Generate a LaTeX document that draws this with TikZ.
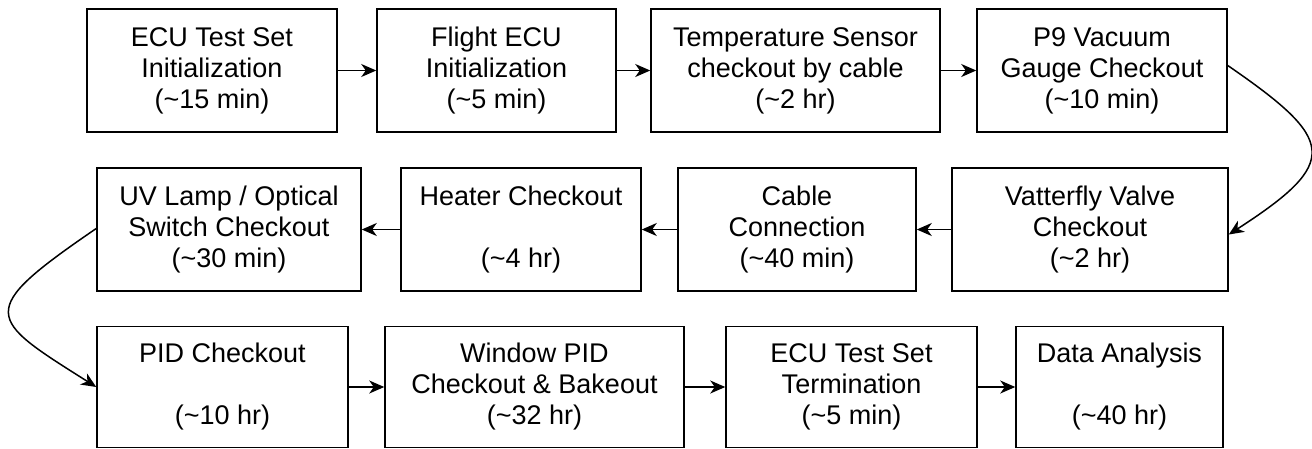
\documentclass[tikz,border=0pt]{standalone}
\usepackage{fontspec}
\setmainfont{Liberation Sans}
\usetikzlibrary{arrows.meta}
\begin{document}
\begin{tikzpicture}[x=1pt,y=-1pt,
  stepbox/.style={draw=black, line width=1.5pt, fill=white, inner sep=0pt,
    align=center, font=\fontsize{27}{31}\selectfont},
  flow/.style={draw=black, line width=1.5pt,
    -{Stealth[length=15pt,width=13pt,inset=4.5pt]}}]
\useasboundingbox (0,0) rectangle (1312,448);

% first row
\node[stepbox, minimum width=250pt, minimum height=123pt] (b1) at (212,70.5)
  {ECU Test Set\\Initialization\\(\textasciitilde15 min)};
\node[stepbox, minimum width=239pt, minimum height=123pt] (b2) at (496.5,70.5)
  {Flight ECU\\Initialization\\(\textasciitilde5 min)};
\node[stepbox, minimum width=289pt, minimum height=123pt] (b3) at (795.5,70.5)
  {Temperature Sensor\\checkout by cable\\(\textasciitilde2 hr)};
\node[stepbox, minimum width=250pt, minimum height=123pt] (b4) at (1102,70.5)
  {P9 Vacuum\\Gauge Checkout\\(\textasciitilde10 min)};

% second row (runs right to left)
\node[stepbox, minimum width=276pt, minimum height=123pt] (b5) at (1090,229.5)
  {Vatterfly Valve\\Checkout\\(\textasciitilde2 hr)};
\node[stepbox, minimum width=238pt, minimum height=123pt] (b6) at (797,229.5)
  {Cable\\Connection\\(\textasciitilde40 min)};
\node[stepbox, minimum width=240pt, minimum height=123pt] (b7) at (521,229.5)
  {Heater Checkout\\\mbox{}\\(\textasciitilde4 hr)};
\node[stepbox, minimum width=264pt, minimum height=123pt] (b8) at (229,229.5)
  {UV Lamp / Optical\\Switch Checkout\\(\textasciitilde30 min)};

% third row
\node[stepbox, minimum width=251pt, minimum height=121pt] (b9) at (222.5,387)
  {PID Checkout\\\mbox{}\\(\textasciitilde10 hr)};
\node[stepbox, minimum width=299pt, minimum height=121pt] (b10) at (534.5,387)
  {Window PID\\Checkout \& Bakeout\\(\textasciitilde32 hr)};
\node[stepbox, minimum width=251pt, minimum height=121pt] (b11) at (851.5,387)
  {ECU Test Set\\Termination\\(\textasciitilde5 min)};
\node[stepbox, minimum width=207pt, minimum height=121pt] (b12) at (1119.5,387)
  {Data Analysis\\\mbox{}\\(\textasciitilde40 hr)};

% straight links
\draw[flow] (b1) -- (b2);
\draw[flow] (b2) -- (b3);
\draw[flow] (b3) -- (b4);
\draw[flow] (b5) -- (b6);
\draw[flow] (b6) -- (b7);
\draw[flow] (b7) -- (b8);
\draw[flow] (b9) -- (b10);
\draw[flow] (b10) -- (b11);
\draw[flow] (b11) -- (b12);

% row-to-row links
\draw[flow] ([yshift=5pt]b4.east) .. controls (1336,140) and (1341,162) .. ([yshift=-5pt]b5.east);
\draw[flow] ([yshift=1pt]b8.west) .. controls (-26,312) and (-13,318) .. (b9.west);
\end{tikzpicture}
\end{document}
